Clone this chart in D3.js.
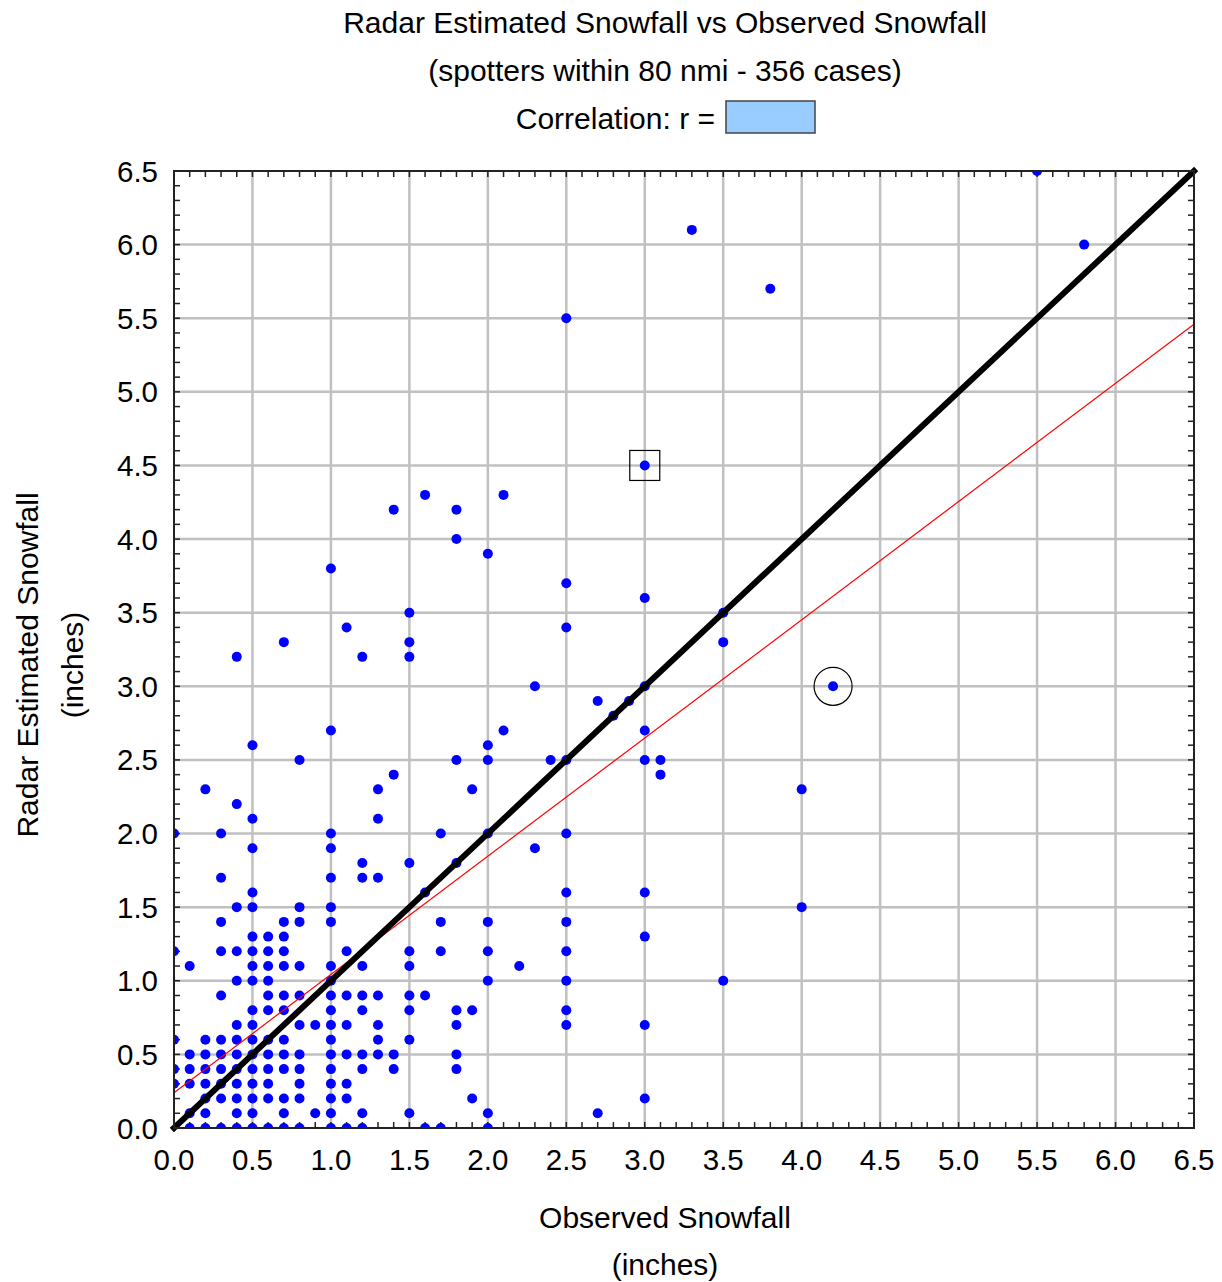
<!DOCTYPE html>
<html>
<head>
<meta charset="utf-8">
<script src="https://cdn.jsdelivr.net/npm/d3@7"></script>
<style>
  body { margin: 0; background: #fff; }
  svg text { font-family: "Liberation Sans", Arial, sans-serif; fill: #000; }
  .grid line { stroke: #c0c0c0; stroke-width: 2.5; }
  .tick-label { font-size: 29.5px; }
  .title { font-size: 30px; }
</style>
</head>
<body>
<div id="chart"></div>
<script>
(function () {
  // radar estimated snowfall levels (inches) and the observed values found at each level
  const radarLevels = [
    0.0, 0.1, 0.2, 0.3, 0.4, 0.5, 0.6, 0.7, 0.8, 0.9,
    1.0, 1.1, 1.2, 1.3, 1.4, 1.5, 1.6, 1.7, 1.8, 1.9,
    2.0, 2.1, 2.2, 2.3, 2.4, 2.5, 2.6, 2.7, 2.8, 2.9,
    3.0, 3.2, 3.3, 3.4, 3.5, 3.6, 3.7, 3.8, 3.9, 4.0,
    4.2, 4.3, 4.5, 5.5, 5.7, 6.0, 6.1, 6.5
  ];
  const observedAtLevel = [
    [0.0, 0.1, 0.2, 0.3, 0.4, 0.5, 0.6, 0.7, 0.8, 1.0, 1.1, 1.2, 1.6, 1.7, 2.0],
    [0.1, 0.2, 0.4, 0.5, 0.7, 0.9, 1.0, 1.2, 1.5, 2.0, 2.7],
    [0.2, 0.3, 0.4, 0.5, 0.6, 0.7, 0.8, 1.0, 1.1, 1.9, 3.0],
    [0.0, 0.1, 0.2, 0.3, 0.4, 0.5, 0.6, 0.8, 1.0, 1.1],
    [0.0, 0.1, 0.2, 0.3, 0.4, 0.5, 0.6, 0.7, 0.8, 1.0, 1.2, 1.4, 1.8],
    [0.1, 0.2, 0.3, 0.4, 0.5, 0.6, 0.7, 0.8, 1.0, 1.1, 1.2, 1.3, 1.4, 1.8],
    [0.0, 0.2, 0.3, 0.4, 0.5, 0.6, 0.7, 1.0, 1.3, 1.5],
    [0.4, 0.5, 0.8, 0.9, 1.0, 1.1, 1.3, 1.8, 2.5, 3.0],
    [0.5, 0.6, 0.7, 1.0, 1.2, 1.5, 1.8, 1.9, 2.5],
    [0.3, 0.6, 0.7, 0.8, 1.0, 1.1, 1.2, 1.3, 1.5, 1.6],
    [0.4, 0.5, 0.6, 1.0, 2.0, 2.5, 3.5],
    [0.1, 0.5, 0.6, 0.7, 0.8, 1.0, 1.2, 1.5, 2.2],
    [0.0, 0.3, 0.4, 0.5, 0.6, 0.7, 1.1, 1.5, 1.7, 2.0, 2.5],
    [0.5, 0.6, 0.7, 3.0],
    [0.3, 0.7, 0.8, 1.0, 1.7, 2.0, 2.5],
    [0.4, 0.5, 0.8, 1.0, 4.0],
    [0.5, 1.6, 2.5, 3.0],
    [0.3, 1.0, 1.2, 1.3],
    [1.2, 1.5, 1.8],
    [0.5, 1.0, 2.3],
    [0.0, 0.3, 1.0, 1.7, 2.0, 2.5],
    [0.5, 1.3],
    [0.4],
    [0.2, 1.3, 1.9, 4.0],
    [1.4, 3.1],
    [0.8, 1.8, 2.0, 2.4, 2.5, 3.0, 3.1],
    [0.5, 2.0],
    [1.0, 2.1, 3.0],
    [2.8],
    [2.7, 2.9],
    [2.3, 3.0, 4.2],
    [0.4, 1.2, 1.5],
    [0.7, 1.5, 3.5],
    [1.1, 2.5],
    [1.5, 3.5],
    [3.0],
    [2.5],
    [1.0],
    [2.0],
    [1.8],
    [1.4, 1.8],
    [1.6, 2.1],
    [3.0],
    [2.5],
    [3.8],
    [5.8],
    [3.3],
    [5.5]
  ];

  // least squares fit drawn in red
  const fitIntercept = 0.24;
  const fitSlope = 0.803;

  // highlighted cases
  const boxedCase = [3.0, 4.5];
  const circledCase = [4.2, 3.0];

  const axisTicks = [0.0, 0.5, 1.0, 1.5, 2.0, 2.5, 3.0, 3.5, 4.0, 4.5, 5.0, 5.5, 6.0, 6.5];
  const titleLines = [
    "Radar Estimated Snowfall vs Observed Snowfall",
    "(spotters within 80 nmi - 356 cases)"
  ];
  const correlationLabel = "Correlation: r =";
  const xTitle = ["Observed Snowfall", "(inches)"];
  const yTitle = ["Radar Estimated Snowfall", "(inches)"];

  const W = 1222, H = 1282;
  const margin = {top: 171, right: 28, bottom: 154, left: 174};
  const width = W - margin.left - margin.right;
  const height = H - margin.top - margin.bottom;

  const points = [];
  radarLevels.forEach(function (r, i) {
    observedAtLevel[i].forEach(function (o) { points.push({x: o, y: r}); });
  });

  const x = d3.scaleLinear().domain([0, 6.5]).range([0, width]);
  const y = d3.scaleLinear().domain([0, 6.5]).range([height, 0]);

  const svg = d3.select("#chart").append("svg")
    .attr("width", W)
    .attr("height", H);

  // titles
  const cx = 665;
  svg.append("text").attr("class", "title")
    .attr("x", cx).attr("y", 33).attr("text-anchor", "middle")
    .text(titleLines[0]);
  svg.append("text").attr("class", "title")
    .attr("x", cx).attr("y", 81).attr("text-anchor", "middle")
    .text(titleLines[1]);
  svg.append("text").attr("class", "title")
    .attr("x", 715).attr("y", 129).attr("text-anchor", "end")
    .text(correlationLabel);
  svg.append("rect")
    .attr("x", 726).attr("y", 101).attr("width", 89).attr("height", 32)
    .attr("fill", "#99ccff").attr("stroke", "#444").attr("stroke-width", 1.5);

  const g = svg.append("g")
    .attr("transform", "translate(" + margin.left + "," + margin.top + ")");

  g.append("defs").append("clipPath").attr("id", "plot-clip")
    .append("rect").attr("width", width).attr("height", height);

  // grid
  const grid = g.append("g").attr("class", "grid");
  grid.selectAll("line.vx").data(axisTicks.slice(1, -1)).join("line")
    .attr("x1", d => x(d)).attr("x2", d => x(d))
    .attr("y1", 0).attr("y2", height);
  grid.selectAll("line.hy").data(axisTicks.slice(1, -1)).join(enter => enter.append("line"))
    .attr("x1", 0).attr("x2", width)
    .attr("y1", d => y(d)).attr("y2", d => y(d));

  // minor ticks every 0.1, pointing inside on all four sides
  const minor = d3.range(0, 66).map(d => d / 10);
  const tickLen = 6;
  const ticks = g.append("g").attr("stroke", "#222").attr("stroke-width", 1.5);
  minor.forEach(function (v) {
    ticks.append("line").attr("x1", x(v)).attr("x2", x(v)).attr("y1", height).attr("y2", height - tickLen);
    ticks.append("line").attr("x1", x(v)).attr("x2", x(v)).attr("y1", 0).attr("y2", tickLen);
    ticks.append("line").attr("x1", 0).attr("x2", tickLen).attr("y1", y(v)).attr("y2", y(v));
    ticks.append("line").attr("x1", width).attr("x2", width - tickLen).attr("y1", y(v)).attr("y2", y(v));
  });

  const plot = g.append("g").attr("clip-path", "url(#plot-clip)");

  // points
  plot.selectAll("circle.pt").data(points).join("circle")
    .attr("class", "pt")
    .attr("cx", d => x(d.x))
    .attr("cy", d => y(d.y))
    .attr("r", 5)
    .attr("fill", "#0000ff");

  // regression line
  plot.append("line")
    .attr("x1", x(0)).attr("y1", y(fitIntercept))
    .attr("x2", x(6.5)).attr("y2", y(fitIntercept + fitSlope * 6.5))
    .attr("stroke", "#ff0000").attr("stroke-width", 1.2);

  // 1:1 line
  g.append("line")
    .attr("x1", x(0)).attr("y1", y(0))
    .attr("x2", x(6.5)).attr("y2", y(6.5))
    .attr("stroke", "#000").attr("stroke-width", 6)
    .attr("stroke-linecap", "square");

  // highlight markers
  g.append("rect")
    .attr("x", x(boxedCase[0]) - 15).attr("y", y(boxedCase[1]) - 15)
    .attr("width", 30).attr("height", 30)
    .attr("fill", "none").attr("stroke", "#000").attr("stroke-width", 1.2);
  g.append("circle")
    .attr("cx", x(circledCase[0])).attr("cy", y(circledCase[1]))
    .attr("r", 19)
    .attr("fill", "none").attr("stroke", "#000").attr("stroke-width", 1.2);

  // frame
  g.append("rect")
    .attr("width", width).attr("height", height)
    .attr("fill", "none").attr("stroke", "#222").attr("stroke-width", 2);

  // tick labels
  g.selectAll("text.xl").data(axisTicks).join("text")
    .attr("class", "tick-label")
    .attr("x", d => x(d)).attr("y", height + 42)
    .attr("text-anchor", "middle")
    .text(d => d.toFixed(1));
  g.selectAll("text.yl").data(axisTicks).join(enter => enter.append("text"))
    .attr("class", "tick-label")
    .attr("x", -16).attr("y", d => y(d) + 10.5)
    .attr("text-anchor", "end")
    .text(d => d.toFixed(1));

  // axis titles
  svg.append("text").attr("class", "title")
    .attr("x", cx).attr("y", 1228).attr("text-anchor", "middle").text(xTitle[0]);
  svg.append("text").attr("class", "title")
    .attr("x", cx).attr("y", 1275).attr("text-anchor", "middle").text(xTitle[1]);
  svg.append("text").attr("class", "title")
    .attr("transform", "translate(38,665) rotate(-90)")
    .attr("text-anchor", "middle").text(yTitle[0]);
  svg.append("text").attr("class", "title")
    .attr("transform", "translate(83,665) rotate(-90)")
    .attr("text-anchor", "middle").text(yTitle[1]);
})();
</script>
</body>
</html>
